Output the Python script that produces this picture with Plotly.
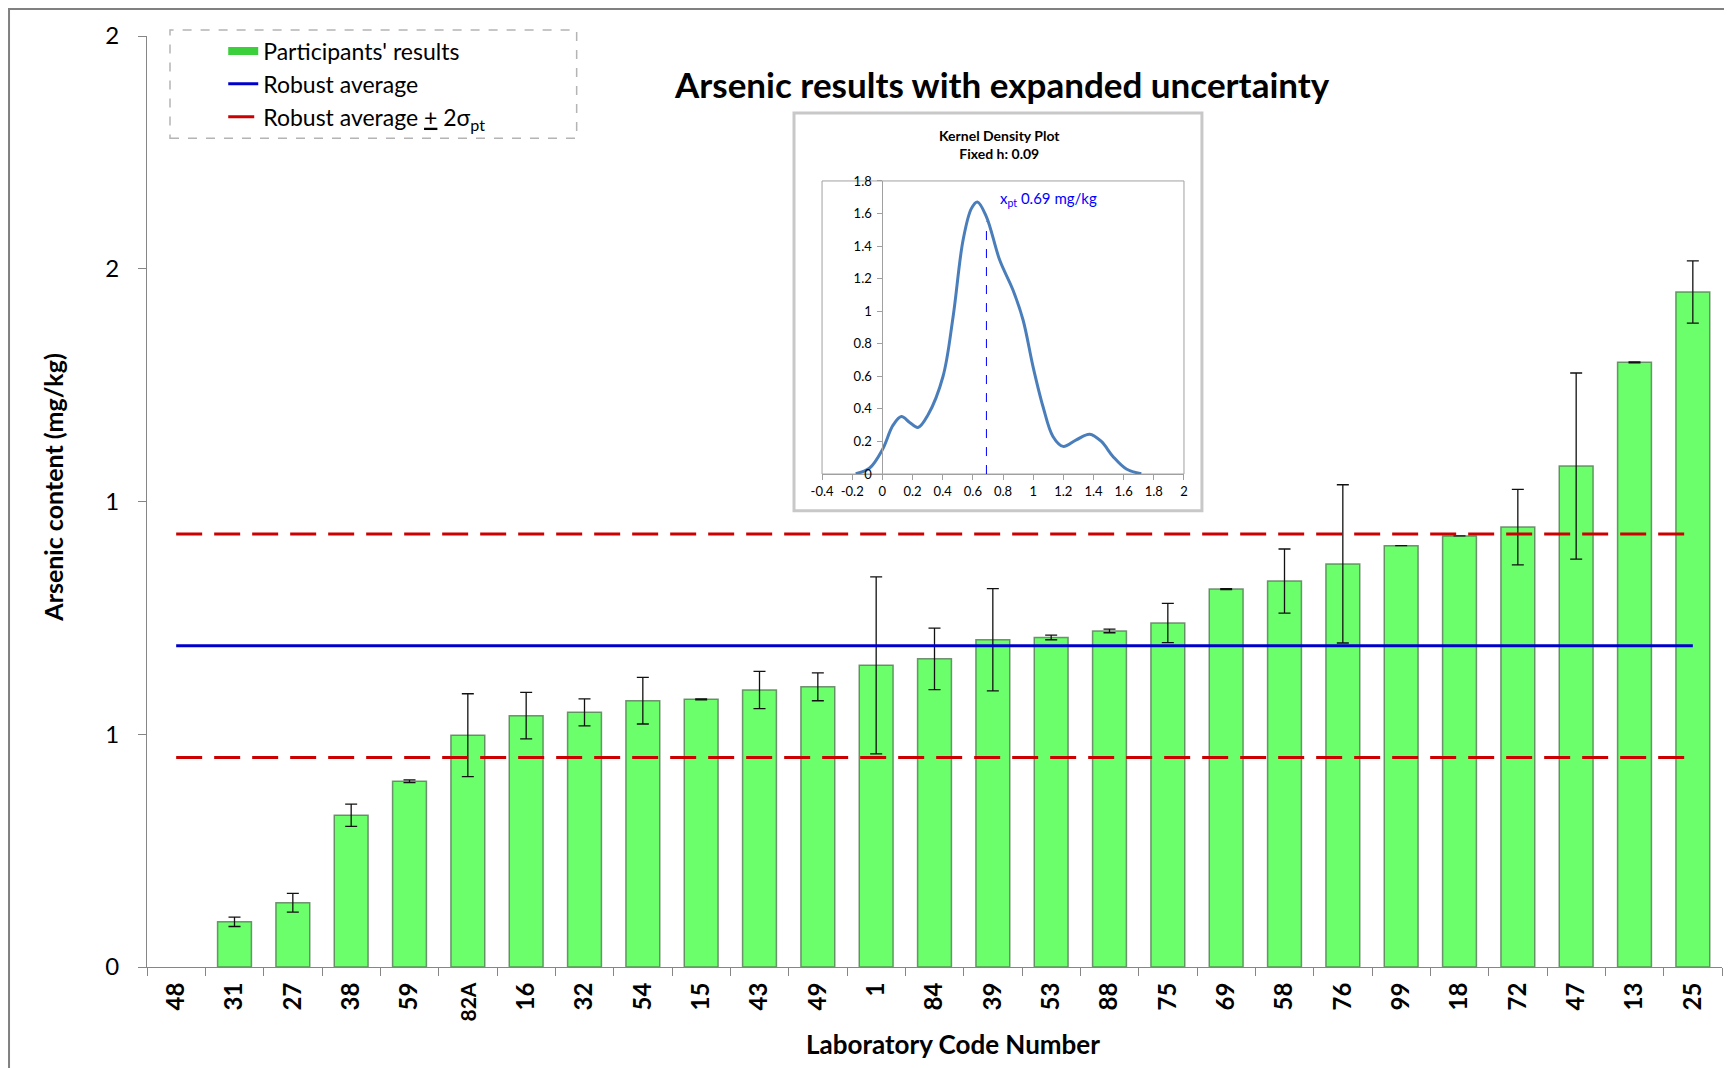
import plotly.graph_objects as go

# lab results (mg/kg) and expanded uncertainties
labs = ["48", "31", "27", "38", "59", "82A", "16", "32", "54", "15", "43", "49", "1", "84",
        "39", "53", "88", "75", "69", "58", "76", "99", "18", "72", "47", "13", "25"]
results = [None, 0.097, 0.138, 0.326, 0.399, 0.498, 0.540, 0.547, 0.572, 0.575, 0.595, 0.602,
           0.648, 0.662, 0.703, 0.708, 0.722, 0.739, 0.812, 0.829, 0.866, 0.905, 0.926, 0.945,
           1.076, 1.299, 1.450]
uncert = [None, 0.010, 0.020, 0.024, 0.003, 0.089, 0.050, 0.029, 0.050, 0.001, 0.040, 0.030,
          0.190, 0.066, 0.110, 0.005, 0.004, 0.042, 0.001, 0.069, 0.170, None, None, 0.081,
          0.200, 0.001, 0.067]

robust_avg = 0.69
sigma_pt = 0.12

y_tickvals = [0, 0.5, 1, 1.5, 2]
y_ticktext = ["0", "1", "1", "2", "2"]

# kernel density curve
kde_x = [-0.177, -0.084, 0.0, 0.071, 0.126, 0.181, 0.236, 0.303, 0.402, 0.469, 0.535, 0.590,
         0.630, 0.690, 0.778, 0.866, 0.933, 0.999, 1.065, 1.131, 1.198, 1.286, 1.375, 1.452,
         1.529, 1.618, 1.717]
kde_y = [0.002, 0.037, 0.149, 0.300, 0.353, 0.317, 0.286, 0.364, 0.599, 0.966, 1.436, 1.630,
         1.671, 1.580, 1.314, 1.130, 0.946, 0.660, 0.415, 0.231, 0.170, 0.210, 0.245, 0.200,
         0.108, 0.031, 0.002]
xpt_line_top = 1.55
kde_xticks = [-0.4, -0.2, 0, 0.2, 0.4, 0.6, 0.8, 1, 1.2, 1.4, 1.6, 1.8, 2]
kde_xtext = ["-0.4", "-0.2", "0", "0.2", "0.4", "0.6", "0.8", "1", "1.2", "1.4", "1.6", "1.8", "2"]
kde_yticks = [0, 0.2, 0.4, 0.6, 0.8, 1, 1.2, 1.4, 1.6, 1.8]
kde_ytext = ["0", "0.2", "0.4", "0.6", "0.8", "1", "1.2", "1.4", "1.6", "1.8"]

FONT = "Lato"
n = len(labs)

# the longer code is printed smaller in the original
lab_text = [f"<span style='font-size:21px'>{c}</span>" if len(c) > 2 else c for c in labs]

fig = go.Figure()

fig.add_trace(go.Bar(
    x=labs, y=results, width=0.58, showlegend=False,
    marker=dict(color="#6bff6b", line=dict(color="rgba(85,120,85,0.8)", width=1.5)),
    error_y=dict(type="data", array=uncert, color="#111111", thickness=1.3, width=6),
))
fig.add_trace(go.Scatter(
    x=[None], y=[None], mode="lines", name="Participants' results",
    line=dict(color="#3ccf3c", width=8),
))
fig.add_trace(go.Scatter(
    x=labs, y=[robust_avg] * n, mode="lines", name="Robust average",
    line=dict(color="#0000cc", width=3),
))
fig.add_trace(go.Scatter(
    x=labs, y=[robust_avg + 2 * sigma_pt] * n, mode="lines",
    name="Robust average <u>+</u> 2σ<sub>pt</sub>",
    line=dict(color="#cc0000", width=3, dash="26px,12px"),
))
fig.add_trace(go.Scatter(
    x=labs, y=[robust_avg - 2 * sigma_pt] * n, mode="lines", showlegend=False,
    line=dict(color="#cc0000", width=3, dash="26px,12px"),
))

# inset: kernel density plot
fig.add_trace(go.Scatter(
    x=kde_x, y=kde_y, mode="lines", line=dict(color="#4a7ebb", width=3, shape="spline"),
    xaxis="x2", yaxis="y2", showlegend=False,
))
fig.add_trace(go.Scatter(
    x=[robust_avg, robust_avg], y=[0, xpt_line_top], mode="lines",
    line=dict(color="#0000ff", width=1, dash="dash"),
    xaxis="x2", yaxis="y2", showlegend=False,
))

fig.update_layout(
    width=1732, height=1068,
    margin=dict(l=139, r=18, t=28, b=109),
    paper_bgcolor="white", plot_bgcolor="rgba(0,0,0,0)",
    font=dict(family=FONT, color="#000000"),
    legend=dict(
        x=0.0484, y=1.007, xanchor="left", yanchor="top",
        bgcolor="rgba(0,0,0,0)", font=dict(size=23, family=FONT), tracegroupgap=0,
    ),
    xaxis=dict(
        type="category", range=[-0.5, n - 0.5],
        tickmode="array", tickvals=labs, ticktext=lab_text,
        showline=True, linecolor="#868686", linewidth=1,
        ticks="outside", ticklen=8, tickcolor="#868686", tickson="boundaries",
        tickangle=-90, tickfont=dict(size=24, family=FONT, weight="bold", color="#000"),
        ticklabelstandoff=5, showgrid=False,
    ),
    yaxis=dict(
        range=[0, 2], tickvals=y_tickvals, ticktext=y_ticktext,
        showline=True, linecolor="#868686", linewidth=1,
        ticks="outside", ticklen=8, tickcolor="#868686",
        tickfont=dict(size=24), ticklabelstandoff=14,
        showgrid=False, zeroline=False,
    ),
    xaxis2=dict(
        domain=[0.4286, 0.6584], anchor="y2", range=[-0.4, 2],
        tickvals=kde_xticks, ticktext=kde_xtext,
        showline=True, linecolor="#a0a0a0", ticks="outside", ticklen=5, tickcolor="#a0a0a0",
        tickfont=dict(size=13), showgrid=False, zeroline=False,
    ),
    yaxis2=dict(
        domain=[0.5295, 0.8443], anchor="free", position=0.4669, range=[0, 1.8],
        tickvals=kde_yticks, ticktext=kde_ytext,
        showline=True, linecolor="#a0a0a0", ticks="outside", ticklen=5, tickcolor="#a0a0a0",
        tickfont=dict(size=13), ticklabelstandoff=3, showgrid=False, zeroline=False,
    ),
)

fig.update_layout(shapes=[
    # outer chart border
    dict(type="rect", xref="paper", yref="paper", x0=-0.0876, x1=1.05, y0=-0.2, y1=1.029,
         line=dict(color="#808080", width=2), layer="below"),
    # legend frame
    dict(type="rect", xref="paper", yref="paper", x0=0.0146, x1=0.2728, y0=0.8901, y1=1.0064,
         line=dict(color="#b4b4b4", width=1.5, dash="dash"), layer="below"),
    # inset frame
    dict(type="rect", xref="paper", yref="paper", x0=0.4108, x1=0.6698, y0=0.4901, y1=0.9173,
         fillcolor="white", line=dict(color="#c8c8c8", width=3), layer="below"),
    # inset plot area
    dict(type="rect", xref="x2 domain", yref="y2 domain", x0=0, x1=1, y0=0, y1=1,
         line=dict(color="#a0a0a0", width=1), layer="below"),
])

fig.add_annotation(
    x=0.5429, y=0.9485, xref="paper", yref="paper", showarrow=False,
    xanchor="center", yanchor="middle",
    text="<b>Arsenic results with expanded uncertainty</b>", font=dict(size=35, family=FONT),
)
fig.add_annotation(
    x=0.5117, y=-0.0827, xref="paper", yref="paper", showarrow=False,
    xanchor="center", yanchor="middle",
    text="<b>Laboratory Code Number</b>", font=dict(size=26, family=FONT),
)
fig.add_annotation(
    x=-0.0597, y=0.5148, xref="paper", yref="paper", showarrow=False, textangle=-90,
    xanchor="center", yanchor="middle",
    text="<b>Arsenic content (mg/kg)</b>", font=dict(size=25, family=FONT),
)
fig.add_annotation(
    x=0.5414, y=0.8835, xref="paper", yref="paper", showarrow=False,
    xanchor="center", yanchor="middle",
    text="<b>Kernel Density Plot<br>Fixed h: 0.09</b>", font=dict(size=14, family=FONT),
)
fig.add_annotation(
    x=0.77, y=1.69, xref="x2", yref="y2", showarrow=False, xanchor="left", yanchor="middle",
    text="x<sub>pt</sub> 0.69 mg/kg", font=dict(size=15, family=FONT, color="#0000ff"),
)

fig.write_html("out.html")
